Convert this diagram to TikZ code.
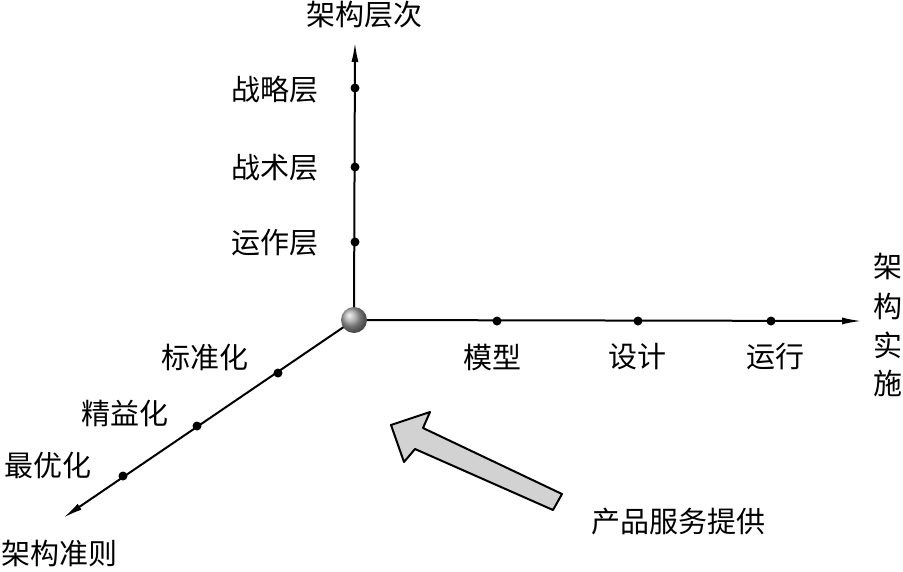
\documentclass[tikz,border=0pt]{standalone}
\usepackage{fontspec}
\setmainfont{Noto Sans CJK SC}
\usetikzlibrary{arrows.meta}
\begin{document}
\begin{tikzpicture}[x=1pt,y=-1pt,
  axis/.style={line width=2pt,-{Latex[length=20pt,width=7pt]}},
  dot/.style={circle,fill=black,inner sep=0pt,minimum size=9pt},
  lbl/.style={font=\fontsize{29}{31}\selectfont,inner sep=0pt}]
\useasboundingbox (0,0) rectangle (903,571);
\coordinate (O) at (354,320);
\coordinate (Vt) at (355,42);
\coordinate (Ht) at (862,321);
\coordinate (Dt) at (63,518);
\draw[axis] (O) -- (Vt);
\draw[axis] (O) -- (Ht);
\draw[axis] (O) -- (Dt);
\shade[ball color=gray!70] (O) circle (13);
\node[dot] (v1) at (355,88) {};
\node[dot] (v2) at (355,167) {};
\node[dot] (v3) at (355,242) {};
\node[dot] (h1) at (497,321) {};
\node[dot] (h2) at (638,321) {};
\node[dot] (h3) at (771,321) {};
\node[dot] (d1) at (278,373) {};
\node[dot] (d2) at (197,426) {};
\node[dot] (d3) at (123,476) {};
\node[lbl] (tv) at (364,15) {架构层次};
\node[lbl] (l1) at (275,90) {战略层};
\node[lbl] (l2) at (275,168) {战术层};
\node[lbl] (l3) at (275,243) {运作层};
\node[lbl] (m1) at (492,357) {模型};
\node[lbl] (m2) at (637,357) {设计};
\node[lbl] (m3) at (775,357) {运行};
\node[lbl] (r1) at (888,267) {架};
\node[lbl] (r2) at (888,306) {构};
\node[lbl] (r3) at (888,345) {实};
\node[lbl] (r4) at (888,383) {施};
\node[lbl] (s1) at (205,357) {标准化};
\node[lbl] (s2) at (125,413) {精益化};
\node[lbl,anchor=west] (s3) at (4,465) {最优化};
\node[lbl,anchor=west] (td) at (1,553) {架构准则};
\node[lbl] (pr) at (678,522) {产品服务提供};
\draw[line width=2pt,fill=gray!35,line join=round]
  (391,425) -- (430,412) -- (423,428) -- (562,494) -- (553,510) -- (415,449) -- (404,462) -- cycle;
\end{tikzpicture}
\end{document}
